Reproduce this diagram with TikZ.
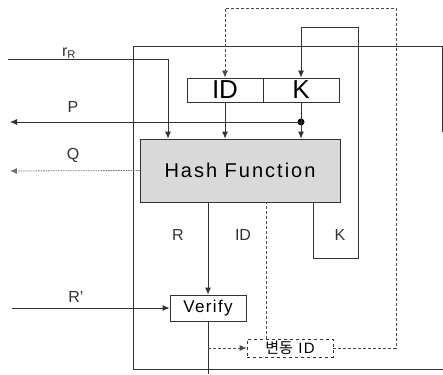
\documentclass[tikz,border=0pt]{standalone}
\usepackage{fontspec}
\setmainfont{Liberation Sans}
\newfontfamily\krfont{Noto Sans CJK KR}
\usetikzlibrary{arrows.meta,positioning}

\begin{document}
\begin{tikzpicture}[
  x=1pt, y=1pt,
  line/.style={draw=black!80, line width=0.8pt},
  arrow/.style={line, -{Latex[length=7pt,width=6pt]}},
  dotarrow/.style={arrow, draw=black!55, dash pattern=on 1.5pt off 1pt},
  dasharrow/.style={arrow, draw=black!70, dash pattern=on 3pt off 2pt},
  dashline/.style={line, draw=black!70, dash pattern=on 3pt off 2pt},
  block/.style={draw=black!80, line width=0.8pt, minimum height=24pt, inner sep=0pt, font=\fontsize{26}{28}\selectfont},
  note/.style={font=\fontsize{16}{18}\selectfont, text=black!80, inner sep=0pt}
]
\useasboundingbox (0,0) rectangle (443,-374);

% outer frame
\draw[line] (442,-132) -- (442,-46) -- (133,-46) -- (133,-369) -- (443,-369);

% blocks
\node[block, minimum width=200pt, minimum height=63pt, fill=black!15, font=\fontsize{20}{22}\selectfont\addfontfeatures{LetterSpace=10}] (hash) at (240,-170.5) {Hash Function};
\node[block, minimum width=76pt] (idbox) at (225,-90) {ID};
\node[block, minimum width=76pt] (kbox) at (301,-90) {K};
\node[block, minimum width=76pt, minimum height=26pt, font=\fontsize{17}{19}\selectfont\addfontfeatures{LetterSpace=8}] (verify) at (208,-308) {Verify};
\node[block, dashed, minimum width=86pt, minimum height=18pt, font=\fontsize{15}{17}\selectfont\addfontfeatures{LetterSpace=8}] (var) at (290,-348) {{\krfont 변동} ID};

\coordinate (dot) at (301,-122);
\fill (dot) circle (3.5pt);
\coordinate (rbin) at (8,-59);
\coordinate (pout) at (10,-122);
\coordinate (qout) at (10,-171);
\coordinate (rin) at (12,-308);
\coordinate (vout) at (208,-374);
\coordinate (kturn) at (358,-258);
\coordinate (ktop) at (358,-27);
\coordinate (idtop) at (396,-8);

% inputs to hash
\draw[arrow] (rbin) -| ([xshift=-72pt]hash.north);
\draw[arrow] (idbox.south) -- (idbox.south |- hash.north);
\draw[line] (kbox.south) -- (dot);
\draw[arrow] (dot) -- (dot |- hash.north);
\draw[arrow] (dot) -- (pout);
\draw[dotarrow] (hash.west) -- (qout);

% outputs of hash
\draw[arrow] (verify.north |- hash.south) -- (verify.north);
\draw[dashline] ([xshift=26pt]hash.south |- var.north) -- ([xshift=26pt]hash.south);
\draw[arrow] ([xshift=73pt]hash.south) |- (kturn) -- (ktop) -| (kbox.north);
\draw[dasharrow] (var.east) -| (idtop) -| (idbox.north);

% verify
\draw[arrow] (rin) -- (verify.west);
\draw[line] (verify.south) -- (vout);
\draw[dasharrow] (verify.south |- var.west) -- (var.west);

% labels
\node[note] (lrb) at (69,-53) {r\textsubscript{R}};
\node[note] (lp) at (73,-107) {P};
\node[note] (lq) at (73,-155) {Q};
\node[note] (lr) at (178,-235) {R};
\node[note] (lid) at (243,-235) {ID};
\node[note] (lk) at (340,-235) {K};
\node[note] (lrp) at (76,-297) {R'};

\end{tikzpicture}
\end{document}
